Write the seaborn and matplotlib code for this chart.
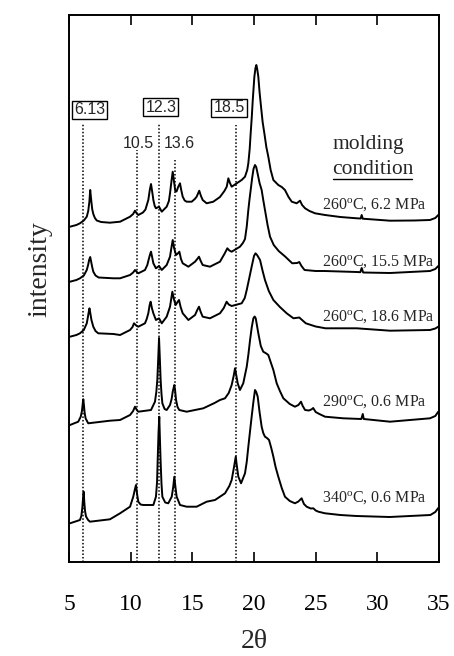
import numpy as np
import pandas as pd
import matplotlib
matplotlib.use("Agg")
import matplotlib.pyplot as plt
from matplotlib.lines import Line2D
import seaborn as sns

# ---- diffraction patterns (2-theta in degrees, intensity in arbitrary units) ----
tt_260_62 = [5.08, 5.6, 5.89, 6.2, 6.44, 6.56, 6.65, 6.72, 6.8, 6.88, 6.97, 7.1, 7.25, 7.6,
             8.32, 9.14, 9.95, 10.2, 10.35, 10.5, 10.62, 11.0, 11.2, 11.43, 11.55, 11.65,
             11.75, 11.84, 11.95, 12.05, 12.3, 12.52, 12.92, 13.1, 13.19, 13.32, 13.41, 13.52,
             13.62, 13.72, 13.85, 14.0, 14.1, 14.22, 14.38, 14.54, 14.95, 15.2, 15.35, 15.56,
             15.7, 15.84, 16.16, 16.7, 17.24, 17.6, 17.79, 17.92, 18.05, 18.19, 18.6, 19.0,
             19.27, 19.45, 19.54, 19.65, 19.73, 19.82, 19.9, 20.03, 20.12, 20.19, 20.26,
             20.35, 20.45, 20.57, 20.7, 20.84, 21.0, 21.16, 21.35, 21.57, 21.97, 22.25,
             22.51, 22.8, 23.06, 23.46, 23.73, 23.9, 24.14, 24.5, 24.95, 25.76, 27.0, 28.33,
             28.65, 28.73, 28.82, 31.03, 33.0, 34.27, 34.7, 34.94]
i_260_62 = [-4.7, -3, -1.3, 1.5, 5.3, 11, 20, 32, 22, 13, 8, 4, 1.5, 0,
            -0.7, 0.3, 5.3, 8, 11.3, 8.5, 7, 9.5, 12.5, 22, 32, 38,
            30, 22, 16, 13.7, 15.3, 10.3, 15.3, 21, 28.7, 42, 50.3, 40,
            31, 30.5, 35, 38.7, 32, 25.3, 21.5, 20.3, 20.3, 23, 25.3, 31.3,
            26, 22, 18.7, 20.3, 25, 31, 35.3, 43.7, 39, 35.3, 38.7, 42,
            45.3, 52, 58.7, 73, 88.7, 105, 122, 145.3, 154, 157, 153,
            145.3, 130, 115.3, 100, 88.7, 75, 65.3, 52, 42, 37, 35,
            32, 25, 20.3, 18.7, 21.3, 17, 13.7, 11, 8.7, 7, 5, 3.7,
            3.5, 7, 3.3, 1.3, 1.5, 2, 4, 7]

tt_260_155 = [5.08, 5.6, 5.89, 6.2, 6.44, 6.55, 6.63, 6.72, 6.8, 6.88, 6.97, 7.15, 7.4,
              8.6, 9.14, 9.95, 10.2, 10.35, 10.5, 10.62, 11.16, 11.35, 11.45, 11.58, 11.65,
              11.74, 11.84, 12.05, 12.3, 12.52, 12.92, 13.19, 13.3, 13.41, 13.52, 13.68,
              13.82, 13.95, 14.08, 14.22, 14.68, 15.22, 15.4, 15.54, 15.68, 15.84, 16.43,
              17.24, 17.6, 17.84, 18.0, 18.19, 18.86, 19.1, 19.27, 19.41, 19.54, 19.63,
              19.73, 19.85, 19.96, 20.08, 20.18, 20.3, 20.45, 20.62, 20.75, 20.89, 21.1,
              21.3, 21.6, 22.0, 22.54, 23.1, 23.5, 23.67, 23.85, 24.1, 25.0, 25.7, 28.33,
              28.62, 28.73, 28.85, 31.03, 34.27, 34.7, 34.94]
i_260_155 = [-3.7, -2, -0.3, 2.5, 8, 13, 18, 21, 16, 11, 6.3, 2.5, 0.5,
             -0.3, -0.3, 3, 5.5, 8, 6, 4.7, 8, 13, 18, 24, 26.3,
             21, 14.7, 9.7, 12, 8, 13, 21.3, 30, 38, 30, 23,
             24.5, 26.3, 19, 14.7, 11.3, 16.3, 19, 21.3, 17, 13, 11.3,
             16.3, 24, 29.7, 27.5, 26.3, 31.3, 35, 39, 51.3, 68, 78,
             88, 100, 109, 113, 111, 104, 95, 88, 78, 68, 53,
             41.3, 33, 27, 21.3, 14.7, 15, 16, 12, 8, 7, 7, 6,
             5.8, 10, 5.5, 5, 7, 9, 12]

tt_260_186 = [5.08, 5.6, 5.89, 6.2, 6.44, 6.52, 6.6, 6.66, 6.74, 6.82, 6.97, 7.15, 7.37,
              8.6, 9.14, 9.95, 10.15, 10.27, 10.45, 10.62, 11.16, 11.3, 11.43, 11.54, 11.62,
              11.72, 11.84, 12.05, 12.3, 12.52, 12.92, 13.19, 13.3, 13.38, 13.5, 13.65, 13.8,
              13.92, 14.05, 14.22, 14.68, 15.22, 15.4, 15.54, 15.68, 15.84, 16.43, 17.24,
              17.55, 17.78, 17.95, 18.19, 19.0, 19.25, 19.41, 19.6, 19.81, 20.0, 20.12,
              20.25, 20.49, 20.7, 20.89, 21.2, 21.57, 22.1, 22.65, 23.2, 23.67, 24.2, 25.0,
              25.8, 28.33, 31.03, 34.27, 34.7, 34.94]
i_260_186 = [-2.7, -1, 0.7, 4, 10.7, 16, 22, 25.7, 20, 14, 7.3, 3, 0.7,
             0, -1, 4, 7, 10.7, 8.5, 7.3, 10.7, 15, 20.7, 29, 32.3,
             26, 20.7, 14, 15.7, 10.7, 17.3, 27.3, 36, 42.3, 35, 29, 32,
             34, 27, 20.7, 14, 19, 24, 27.3, 22, 17.3, 15.7, 20.7,
             26, 32.3, 29.5, 28, 30.7, 36, 44, 55, 67.3, 78, 80.7,
             79, 74, 63, 54, 43, 34, 27, 20.7, 15.7, 16.5, 10.7, 7.5,
             5.7, 5.7, 3.3, 4, 5.5, 7.3]

tt_290_06 = [5.08, 5.75, 5.95, 6.05, 6.12, 6.16, 6.21, 6.27, 6.35, 6.56, 8.32, 9.14, 9.95,
             10.2, 10.35, 10.5, 10.62, 11.65, 11.97, 12.08, 12.16, 12.23, 12.3, 12.37, 12.43,
             12.5, 12.57, 12.75, 12.92, 13.19, 13.32, 13.41, 13.54, 13.6, 13.68, 13.8, 13.94,
             14.54, 15.89, 16.8, 17.24, 17.65, 17.95, 18.19, 18.35, 18.46, 18.56, 18.68,
             18.86, 19.13, 19.41, 19.55, 19.68, 19.82, 19.95, 20.05, 20.14, 20.35, 20.55,
             20.75, 21.0, 21.16, 21.35, 21.57, 21.84, 22.1, 22.38, 22.9, 23.32, 23.6, 23.81,
             23.95, 24.14, 24.45, 24.68, 24.8, 25.0, 25.3, 25.76, 27.24, 28.7, 28.82, 28.9,
             31.03, 34.27, 34.7, 34.94]
i_290_06 = [-3, 0.3, 5.3, 11, 19, 22.7, 17, 9, 3.5, -1.3, 1.3, 2, 7,
            11, 15.3, 12, 10.3, 12, 20.3, 30, 42, 62, 84, 62, 42,
            28, 18.7, 13, 12, 17, 23, 30.3, 37, 32, 22, 15, 12,
            10.3, 13.7, 19, 22, 23.7, 29, 37, 46, 53.7, 47, 38.7,
            32, 38.7, 55.3, 68, 82, 95, 103.7, 105.5, 103.7, 88.7, 76,
            70.3, 68.5, 67, 60, 52, 38.7, 31, 23.7, 18, 15.3, 17, 20.3,
            16, 12, 11.5, 12.7, 14, 10, 8, 5.3, 3.7, 3, 8, 3,
            0.3, 3.7, 6, 10.3]

tt_340_06 = [5.08, 5.89, 6.0, 6.08, 6.14, 6.19, 6.24, 6.3, 6.38, 6.55, 6.7, 8.32, 9.14,
             9.95, 10.21, 10.33, 10.43, 10.52, 10.62, 10.8, 11.02, 11.84, 12.05, 12.14, 12.19,
             12.26, 12.32, 12.38, 12.43, 12.5, 12.57, 12.8, 13.05, 13.33, 13.45, 13.54, 13.63,
             13.73, 14.0, 14.54, 15.35, 16.16, 16.84, 17.65, 18.0, 18.19, 18.38, 18.52, 18.62,
             18.73, 18.95, 19.27, 19.41, 19.54, 19.68, 19.81, 19.95, 20.08, 20.18, 20.3,
             20.45, 20.62, 20.75, 20.89, 21.05, 21.22, 21.4, 21.57, 21.75, 21.97, 22.25,
             22.51, 22.9, 23.32, 23.6, 23.86, 24.05, 24.27, 24.6, 24.81, 25.0, 25.22, 25.76,
             27.0, 28.3, 31.0, 34.3, 34.7, 34.94]
i_340_06 = [-1.3, 2, 6, 14, 24, 30.3, 20, 11, 5.5, 2, 0.3, 2.7, 8.7,
            15.3, 25.3, 32, 37, 28, 20.3, 17.5, 17, 17, 25.3, 40, 62,
            90, 105.3, 80, 60, 38, 25.3, 19.5, 18.7, 25.3, 35, 45.3, 35,
            25.3, 17, 15.3, 15.3, 20.3, 22, 28.7, 36, 42, 55, 65.3, 55,
            45.3, 38.7, 48.7, 60, 75.3, 91, 105.3, 120, 132, 130, 125.3,
            110, 95.3, 89, 85.3, 84, 82, 74, 65.3, 55, 45.3, 34,
            25.3, 21, 18.7, 20.5, 23.7, 18, 15.3, 13.5, 13.7, 11.5, 10.3, 8.7,
            7, 6, 5, 7, 10, 14]

conditions = ["260$^{\\mathrm{o}}$C, 6.2 MPa", "260$^{\\mathrm{o}}$C, 15.5 MPa",
              "260$^{\\mathrm{o}}$C, 18.6 MPa", "290$^{\\mathrm{o}}$C, 0.6 MPa",
              "340$^{\\mathrm{o}}$C, 0.6 MPa"]
offsets = [340, 284, 228, 140, 40]
label_heights = [357, 300, 245, 160, 64]

# reference reflections
ref_peaks = [6.13, 10.5, 12.3, 13.6, 18.5]
ref_labels = ["6.13", "10.5", "12.3", "13.6", "18.5"]
ref_boxed = [True, False, True, False, True]
ref_line_top = [439, 412, 439, 402, 437]
ref_label_x = [6.65, 10.65, 12.44, 13.92, 17.97]
ref_label_y = [452, 419, 455, 419, 454]

xticks = [5, 10, 15, 20, 25, 30, 35]

# ---- styling ----
sns.set_theme(style="white")
plt.rcParams["font.family"] = ["Liberation Serif", "DejaVu Serif"]
plt.rcParams["mathtext.fontset"] = "custom"
plt.rcParams["mathtext.rm"] = "Liberation Serif"
plt.rcParams["mathtext.it"] = "Liberation Serif:italic"

fig = plt.figure(figsize=(4.54, 6.56), dpi=100)
ax = fig.add_axes([69 / 454, 1 - 562 / 656, 370 / 454, 547 / 656])

patterns = [(tt_260_62, i_260_62), (tt_260_155, i_260_155), (tt_260_186, i_260_186),
            (tt_290_06, i_290_06), (tt_340_06, i_340_06)]

for (tt, inten), off, cond, ly in zip(patterns, offsets, conditions, label_heights):
    df = pd.DataFrame({"two_theta": tt, "intensity": np.asarray(inten) + off})
    sns.lineplot(data=df, x="two_theta", y="intensity", ax=ax, color="black",
                 linewidth=1.4, estimator=None, sort=False, legend=False)
    ax.text(25.55, ly, cond, fontsize=11.5, ha="left", va="center")

# dotted guide lines at the reference reflections
for pk, top, lab, lx, lyy, boxed in zip(ref_peaks, ref_line_top, ref_labels,
                                         ref_label_x, ref_label_y, ref_boxed):
    ax.vlines(pk, 0, top, colors="black", linestyles=(0, (1.0, 1.3)), linewidth=1.1)
    kw = dict(fontsize=11.5, ha="center", va="center", family="Liberation Sans")
    if boxed:
        kw["bbox"] = dict(boxstyle="square,pad=0.12", facecolor="white",
                          edgecolor="black", linewidth=1.0)
    ax.text(lx, lyy, lab, **kw)

ax.text(29.27, 417, "molding", fontsize=15.5, ha="center", va="center")
cond_txt = ax.text(29.62, 392, "condition", fontsize=15.5, ha="center", va="center")

ax.set_xlim(5, 35)
ax.set_ylim(0, 547)
ax.set_xticks(xticks)
ax.set_xticklabels([str(t) for t in xticks], fontsize=17)
ax.set_yticks([])
ax.tick_params(axis="x", which="both", direction="in", length=7, width=1.2,
               top=True, bottom=True, labeltop=False, pad=23, colors="black")
for sp in ax.spines.values():
    sp.set_visible(True)
    sp.set_color("black")
    sp.set_linewidth(1.4)

ax.set_xlabel("2\u03b8", fontsize=20)
ax.set_ylabel("intensity", fontsize=20)
ax.xaxis.set_label_coords(0.5, -0.122)
ax.yaxis.set_label_coords(-0.046, 0.535)

# underline beneath "condition"
fig.canvas.draw()
bb = cond_txt.get_window_extent()
fig.add_artist(Line2D([bb.x0 + 1, bb.x1 - 1], [bb.y0 + 1, bb.y0 + 1],
                      transform=None, color="black", linewidth=1.0))

fig.savefig("out.png", dpi=100)
